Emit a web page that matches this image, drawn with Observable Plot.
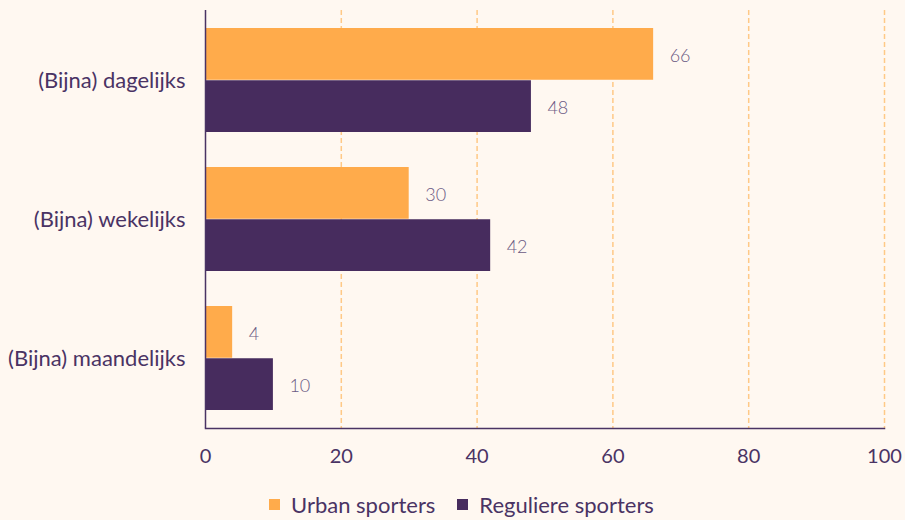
<!DOCTYPE html>
<html>
<head>
<meta charset="utf-8">
<script src="https://cdn.jsdelivr.net/npm/d3@7"></script>
<script src="https://cdn.jsdelivr.net/npm/@observablehq/plot@0.6"></script>
<style>
  html, body { margin: 0; padding: 0; background: #fff8f1; }
  body { width: 905px; height: 520px; overflow: hidden; font-family: Lato, "Open Sans", sans-serif; }
  #legend { display: flex; justify-content: center; padding-left: 40px; margin-top: 8px; }
</style>
</head>
<body>
<div id="chart"></div>
<div id="legend"></div>
<script>
const categories = ["(Bijna) dagelijks", "(Bijna) wekelijks", "(Bijna) maandelijks"];
const series = ["Urban sporters", "Reguliere sporters"];
const urban = [66, 30, 4];
const regulier = [48, 42, 10];
const xTicks = [0, 20, 40, 60, 80, 100];
const colors = ["#ffab4b", "#472c5e"];

const data = categories.flatMap((c, i) => [
  {category: c, series: series[0], value: urban[i]},
  {category: c, series: series[1], value: regulier[i]}
]);

const width = 905, height = 480, marginTop = 10, marginBottom = 52, marginLeft = 205, marginRight = 21;
const paddingInner = 0.25, paddingOuter = 0.125;
const step = (height - marginTop - marginBottom) / (categories.length - paddingInner + 2 * paddingOuter);
const half = step * (1 - paddingInner) / 2;

const axisColor = "#4a3364";
const labelColor = "#6b5a84";

const chart = Plot.plot({
  width, height, marginTop, marginBottom, marginLeft, marginRight,
  style: {background: "#fff8f1", fontFamily: "Lato, 'Open Sans', sans-serif", color: axisColor},
  x: {domain: [0, 100]},
  y: {domain: categories, paddingInner, paddingOuter},
  color: {domain: series, range: colors},
  marks: [
    Plot.ruleX(xTicks.filter(d => d > 0), {stroke: "#ffc987", strokeWidth: 1.5, strokeDasharray: "5,3"}),
    Plot.barX(data.filter(d => d.series === series[0]), {x: "value", y: "category", fill: colors[0], insetBottom: half}),
    Plot.barX(data.filter(d => d.series === series[1]), {x: "value", y: "category", fill: colors[1], insetTop: half}),
    Plot.text(data.filter(d => d.series === series[0]), {x: "value", y: "category", text: d => String(d.value), dy: -half / 2 + 2, dx: 16, textAnchor: "start", fill: labelColor, fontSize: 18, fontWeight: 300}),
    Plot.text(data.filter(d => d.series === series[1]), {x: "value", y: "category", text: d => String(d.value), dy: half / 2 + 2, dx: 16, textAnchor: "start", fill: labelColor, fontSize: 18, fontWeight: 300}),
    Plot.ruleX([0], {stroke: axisColor, strokeWidth: 1.5}),
    Plot.frame({anchor: "bottom", stroke: axisColor, strokeWidth: 1.5}),
    Plot.axisX({ticks: xTicks, tickSize: 0, tickPadding: 20, fontSize: 20, fill: axisColor, label: null, tickFormat: d => String(d)}),
    Plot.axisY({tickSize: 0, tickPadding: 20, fontSize: 22, fill: axisColor, label: null})
  ]
});
document.getElementById("chart").append(chart);

const legend = Plot.legend({
  color: {domain: series, range: colors},
  legend: "swatches",
  swatchSize: 11,
  style: {fontFamily: "Lato, 'Open Sans', sans-serif", fontSize: "22px", color: axisColor, background: "transparent"}
});
document.getElementById("legend").append(legend);
</script>
</body>
</html>
